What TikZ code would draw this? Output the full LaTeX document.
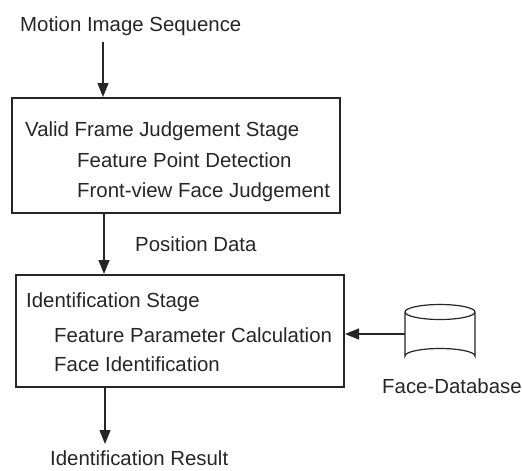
\documentclass[tikz,border=0pt]{standalone}
\usepackage{fontspec}
\setmainfont{Liberation Sans}
\usetikzlibrary{arrows.meta}
\definecolor{ink}{RGB}{38,38,38}
\begin{document}
\begin{tikzpicture}[x=1pt,y=-1pt,
  every node/.style={text=ink},
  lbl/.style={anchor=base west,inner sep=0pt,font=\fontsize{20.4}{22}\selectfont},
  stagebox/.style={draw=ink,line width=2pt,inner sep=0pt},
  flow/.style={draw=ink,line width=1.2pt,-{Triangle[length=14pt,width=11pt]}}]
\useasboundingbox (0,0) rectangle (522,471);
% texts
\node[lbl] (mis) at (20,31) {Motion Image Sequence};
\node[stagebox,minimum width=328pt,minimum height=115pt] (b1) at (176,155.5) {};
\node[lbl] (t1) at (25,136) {Valid Frame Judgement Stage};
\node[lbl] (t2) at (77,167) {Feature Point Detection};
\node[lbl] (t3) at (77,197) {Front-view Face Judgement};
\node[lbl] (pd) at (135,251) {Position Data};
\node[stagebox,minimum width=328pt,minimum height=112pt] (b2) at (180,331) {};
\node[lbl] (u1) at (26,307) {Identification Stage};
\node[lbl] (u2) at (54,342) {Feature Parameter Calculation};
\node[lbl] (u3) at (54,371) {Face Identification};
\node[lbl] (fd) at (382,393) {Face-Database};
\node[lbl] (ir) at (50,465.5) {Identification Result};
% database cylinder
\node[minimum width=70pt,minimum height=58pt,inner sep=0pt] (db) at (440,334) {};
\draw[ink,line width=1.2pt] (405,312) arc[start angle=180,end angle=540,x radius=35,y radius=7.5]
  (405,312) -- (405,356) arc[start angle=180,end angle=360,x radius=35,y radius=7.5] -- (475,312);
% connectors
\coordinate (s1) at (103,42);
\coordinate (e3) at (105,444);
\draw[flow] (s1) -- (s1 |- b1.north);
\draw[flow] (b1.south -| 104,0) -- (104,0 |- b2.north);
\draw[flow] (b2.south -| e3) -- (e3);
\draw[flow] (db.west) -- (db.west -| b2.east);
\end{tikzpicture}
\end{document}
